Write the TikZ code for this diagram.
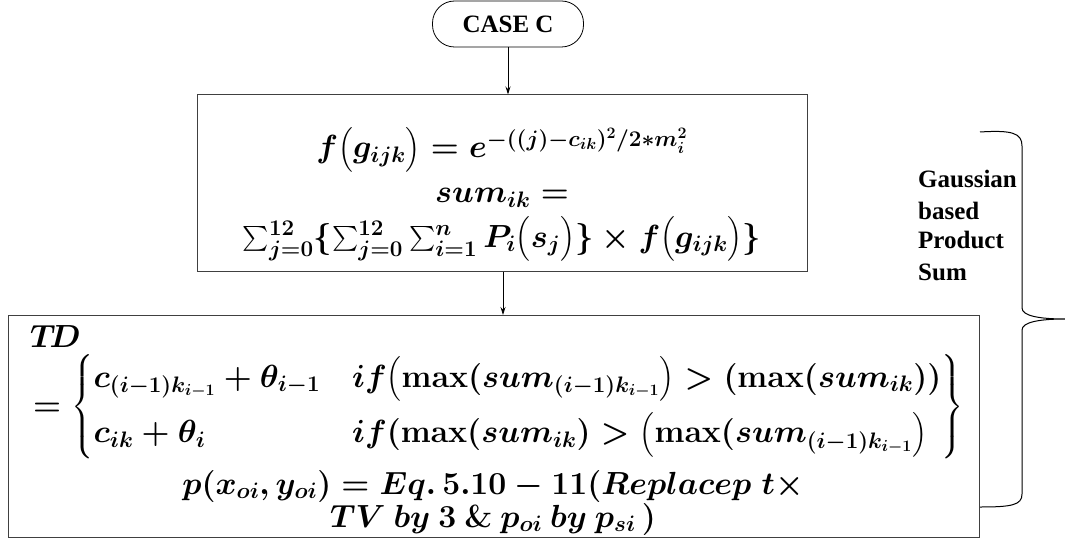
\RequirePackage{fix-cm}
\documentclass[tikz,border=0pt]{standalone}
\usepackage{amsmath}
\usepackage[no-math]{fontspec}
\setmainfont{Liberation Serif}
\usetikzlibrary{arrows.meta}
\begin{document}
\begin{tikzpicture}[x=1pt,y=-1pt,
  box/.style={draw=black!75, line width=1pt, inner sep=0pt},
  arr/.style={-{Stealth[length=8pt,width=5pt]}, line width=0.8pt},
  mtxt/.style={font=\fontsize{32}{38}\selectfont\boldmath, inner sep=0pt},
  lbl/.style={font=\fontsize{25}{30}\selectfont\bfseries, inner sep=0pt}]
\useasboundingbox (0,0) rectangle (1065,540);
% start node
\node[draw, line width=0.8pt, rounded corners=22pt, minimum width=151pt, minimum height=46pt, lbl] (case) at (508,24) {CASE C};
% boxes
\node[box, minimum width=610pt, minimum height=176pt] (box1) at (502,183) {};
\node[box, minimum width=971pt, minimum height=222pt] (box2) at (493.5,426) {};
% box 1 text
\node[mtxt, anchor=base] (b1l1) at (502,158) {$f\bigl(g_{ijk}\bigr) = e^{-((j)-c_{ik})^2/2*m_i^{2}}$};
\node[mtxt, anchor=base] (b1l2) at (502,203) {$sum_{ik} =$};
\node[mtxt, anchor=base] (b1l3) at (502,247) {$\sum_{j=0}^{12}\{\sum_{j=0}^{12}\sum_{i=1}^{n}P_i\bigl(s_j\bigr)\}\times f\bigl(g_{ijk}\bigr)\}$};
% box 2 text
\node[mtxt, anchor=base west] (td) at (30,347) {$T\!D$};
\node[mtxt, anchor=west] (cases) at (33,407) {$=\left\{\begin{array}{@{}l@{\quad}l@{}}
  c_{(i-1)k_{i-1}}+\theta_{i-1} & if\bigl(\max(sum_{(i-1)k_{i-1}}\bigr) > (\max(sum_{ik}))\\[14pt]
  c_{ik}+\theta_i & if(\max(sum_{ik}) > \bigl(\max(sum_{(i-1)k_{i-1}}\bigr)
  \end{array}\right\}$};
\node[mtxt, anchor=base] (b2l3) at (493,494) {$p(x_{oi},y_{oi}) = Eq.\,5.10-11(Replacep\;t\times$};
\node[mtxt, anchor=base] (b2l4) at (493,527) {$TV\ by\ 3\ \&\ p_{oi}\ by\ p_{si}\,)$};
% connectors
\draw[arr] (case.south) -- (case.south |- box1.north);
\draw[arr] (box1.south -| 503,0) -- (503,315);
% brace
\draw[line width=1pt] (980,132) .. controls (1012,130) and (1022,133) .. (1022,146) -- (1022,308)
  .. controls (1022,316) and (1040,319) .. (1065,319)
  .. controls (1040,319) and (1022,322) .. (1022,330) -- (1022,494)
  .. controls (1022,505) and (1012,507) .. (980,507);
\node[lbl, anchor=base west] (gtext) at (918,188) {Gaussian};
\node[lbl, anchor=base west] (gtext2) at (918,219) {based};
\node[lbl, anchor=base west] (gtext3) at (918,248) {Product};
\node[lbl, anchor=base west] (gtext4) at (918,280) {Sum};
\end{tikzpicture}
\end{document}
